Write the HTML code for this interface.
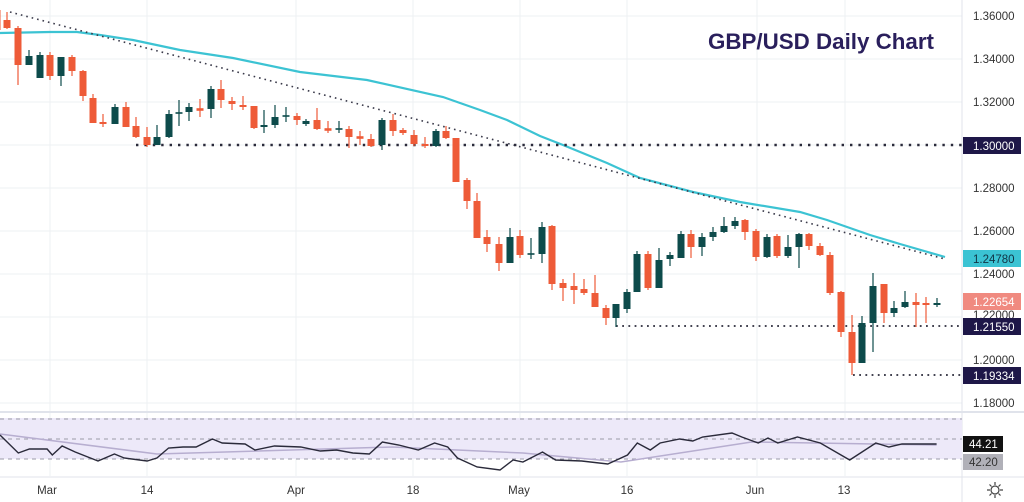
<!DOCTYPE html>
<html><head><meta charset="utf-8"><style>
html,body{margin:0;padding:0;background:#fff;}
svg{display:block;font-family:"Liberation Sans",sans-serif;}
</style></head><body>
<svg id="s" width="1024" height="502" viewBox="0 0 1024 502" xmlns="http://www.w3.org/2000/svg">
<rect width="1024" height="502" fill="#fff"/>
<g stroke="#eef0f3" stroke-width="1">
<line x1="0" y1="16" x2="962" y2="16"/><line x1="0" y1="59" x2="962" y2="59"/><line x1="0" y1="102" x2="962" y2="102"/><line x1="0" y1="145" x2="962" y2="145"/><line x1="0" y1="188" x2="962" y2="188"/><line x1="0" y1="231" x2="962" y2="231"/><line x1="0" y1="274" x2="962" y2="274"/><line x1="0" y1="317" x2="962" y2="317"/><line x1="0" y1="360" x2="962" y2="360"/><line x1="0" y1="403" x2="962" y2="403"/>
<line x1="50" y1="0" x2="50" y2="476"/><line x1="147" y1="0" x2="147" y2="476"/><line x1="296" y1="0" x2="296" y2="476"/><line x1="413" y1="0" x2="413" y2="476"/><line x1="520" y1="0" x2="520" y2="476"/><line x1="627" y1="0" x2="627" y2="476"/><line x1="757" y1="0" x2="757" y2="476"/><line x1="845" y1="0" x2="845" y2="476"/>
</g>
<line x1="962" y1="0" x2="962" y2="502" stroke="#e0e3eb"/>
<line x1="0" y1="412" x2="1024" y2="412" stroke="#e0e3eb" stroke-width="2"/>
<line x1="0" y1="477" x2="1024" y2="477" stroke="#e0e3eb" stroke-width="1"/>
<text x="708" y="49" font-size="22" font-weight="bold" fill="#2a1f5c" textLength="226" lengthAdjust="spacingAndGlyphs">GBP/USD Daily Chart</text>
<polyline fill="none" stroke="#3cc3d3" stroke-width="2.2" points="0,33 50,32 77,32 100,35 133,40 180,50 233,58 300,72 367,80 443,97 480,110 507,120 540,136 563,145 607,163 640,178 693,192 740,202 800,212 827,220 870,235 900,244 945,257"/>
<line x1="10" y1="12" x2="945" y2="259" stroke="#3a3a4a" stroke-width="1.6" stroke-dasharray="1.6 4"/>
<line x1="136" y1="145" x2="962" y2="145" stroke="#2a2a3a" stroke-width="2.4" stroke-dasharray="2.4 6"/>
<line x1="616" y1="326" x2="962" y2="326" stroke="#2a2a3a" stroke-width="1.8" stroke-dasharray="1.8 4.4"/>
<line x1="853" y1="375" x2="962" y2="375" stroke="#2a2a3a" stroke-width="1.8" stroke-dasharray="1.8 4.4"/>
<g id="c"></g>
<rect x="0" y="418" width="962" height="41" fill="#ede9f9"/>
<g stroke="#9a9aa8" stroke-width="1" stroke-dasharray="4 4"><line x1="0" y1="419" x2="962" y2="419"/><line x1="0" y1="439" x2="962" y2="439"/><line x1="0" y1="459" x2="962" y2="459"/></g>
<polyline id="sig" fill="none" stroke="#b7aed0" stroke-width="1.5"/>
<polyline id="rsi" fill="none" stroke="#2a2a3a" stroke-width="1.4"/>
<g font-size="11.5" fill="#333" >
<text x="973" y="20">1.36000</text><text x="973" y="63">1.34000</text><text x="973" y="106">1.32000</text><text x="973" y="192">1.28000</text><text x="973" y="235">1.26000</text><text x="973" y="278">1.24000</text><text x="973" y="319">1.22000</text><text x="973" y="364">1.20000</text><text x="973" y="407">1.18000</text>
</g>
<rect x="963" y="137" width="58" height="17" fill="#1e1748"/><text x="973" y="150" font-size="11.5" fill="#fff">1.30000</text>
<rect x="963" y="250" width="58" height="17" fill="#3bc3d3"/><text x="973" y="263" font-size="11.5" fill="#134">1.24780</text>
<rect x="963" y="293" width="58" height="17" fill="#f08a80"/><text x="973" y="306" font-size="11.5" fill="#fff">1.22654</text>
<rect x="963" y="318" width="58" height="17" fill="#1e1748"/><text x="973" y="331" font-size="11.5" fill="#fff">1.21550</text>
<rect x="963" y="367" width="58" height="17" fill="#1e1748"/><text x="973" y="380" font-size="11.5" fill="#fff">1.19334</text>
<rect x="963" y="436" width="40" height="16" fill="#111"/><text x="969" y="448" font-size="11.5" fill="#fff">44.21</text>
<rect x="963" y="454" width="40" height="16" fill="#b0b0b8"/><text x="969" y="466" font-size="11.5" fill="#333">42.20</text>
<g font-size="11.5" fill="#333" text-anchor="middle">
<text x="47" y="494">Mar</text><text x="147" y="494">14</text><text x="296" y="494">Apr</text><text x="413" y="494">18</text><text x="519" y="494">May</text><text x="627" y="494">16</text><text x="755" y="494">Jun</text><text x="844" y="494">13</text>
</g>
<g stroke="#444" fill="none" stroke-width="1.2"><circle cx="995" cy="490" r="4"/><path d="M995 482v3M995 495v3M987 490h3M1000 490h3M989.5 484.5l2 2M998.5 493.5l2 2M989.5 495.5l2-2M998.5 486.5l2-2"/></g>
</svg>
<script>
var C=[[-3,'r',10,30,6,34],[7,'r',20,28,12,29],[18,'r',28,65,26,85],[29,'g',56,65,50,65],[40,'g',55,78,52,78],[50,'r',55,76,52,80],[61,'g',57,76,57,86],[72,'r',57,71,55,76],[83,'r',71,96,70,101],[93,'r',98,123,94,123],[103,'r',122,124,114,127],[115,'g',107,124,104,124],[126,'r',107,127,102,127],[136,'r',126,137,117,138],[147,'r',137,145,127,147],[157,'g',137,145,125,145],[169,'g',114,137,110,138],[179,'g',113,113,100,126],[189,'g',107,112,103,121],[200,'r',109,110,99,117],[211,'g',89,109,86,118],[221,'r',89,100,80,108],[232,'r',101,104,97,110],[243,'r',105,107,96,110],[254,'r',106,128,106,129],[264,'g',125,127,110,133],[275,'g',117,125,105,128],[286,'g',116,116,107,122],[297,'r',116,120,113,125],[306,'g',121,124,119,126],[317,'r',120,129,108,130],[328,'r',129,130,121,133],[339,'g',129,129,121,133],[349,'r',129,137,126,148],[360,'r',137,138,131,145],[371,'r',139,146,134,147],[382,'g',120,145,118,150],[393,'r',120,131,114,136],[403,'r',130,133,128,135],[414,'r',135,144,130,146],[425,'r',144,146,137,148],[436,'g',131,146,129,147],[446,'r',131,138,126,139],[456,'r',138,182,138,182],[467,'r',180,201,178,209],[477,'r',201,238,193,238],[487,'r',237,244,230,252],[499,'r',244,263,237,271],[510,'g',237,263,228,263],[520,'r',236,255,230,258],[531,'g',254,254,238,259],[542,'g',227,254,222,263],[552,'r',226,284,225,290],[563,'r',283,288,279,301],[574,'r',286,290,273,304],[584,'r',289,293,279,295],[595,'r',293,307,275,307],[606,'r',308,318,305,325],[616,'g',304,318,304,327],[627,'g',292,309,289,313],[637,'g',254,292,251,292],[648,'r',254,288,251,290],[659,'g',260,288,248,288],[670,'g',255,259,252,266],[681,'g',234,258,231,258],[691,'r',234,247,230,258],[702,'g',237,247,233,256],[713,'g',232,237,227,241],[724,'g',226,232,217,233],[735,'g',221,226,217,229],[745,'r',220,232,219,240],[756,'r',231,257,229,261],[767,'g',237,257,234,258],[777,'r',236,256,234,258],[788,'g',247,256,235,258],[799,'g',234,247,233,268],[809,'r',234,246,233,250],[820,'r',246,255,243,256],[830,'r',255,293,252,295],[841,'r',292,332,291,337],[852,'r',332,363,315,375],[862,'g',323,363,316,363],[873,'g',286,323,273,352],[884,'r',284,313,284,323],[894,'g',308,313,301,317],[905,'g',302,307,291,308],[916,'r',302,305,293,327],[926,'r',303,305,297,323],[937,'g',303,305,298,307]];
var h='';C.forEach(function(c){var col=c[1]=='r'?'#ee5b38':'#0d4b4b';var t=Math.min(c[2],c[3]),b=Math.max(c[2],c[3]);if(b-t<1.5){t-=0.8;b+=0.8;}h+='<line x1="'+c[0]+'" x2="'+c[0]+'" y1="'+c[4]+'" y2="'+c[5]+'" stroke="'+col+'" stroke-width="1.2"/><rect x="'+(c[0]-3.5)+'" y="'+t+'" width="7" height="'+(b-t)+'" fill="'+col+'"/>';});
document.getElementById('c').innerHTML=h;
function cv(a){return a.map(function(p){return (p[0]/1.53).toFixed(1)+','+p[1];}).join(' ');}
document.getElementById('rsi').setAttribute('points',cv([[0,435],[28,453],[45,449],[72,449],[80,455],[95,446],[115,452],[150,461],[175,454],[190,458],[225,461],[240,458],[258,448],[280,447],[300,447],[325,439],[340,443],[375,444],[390,450],[420,446],[460,447],[490,451],[515,450],[540,453],[565,454],[585,442],[610,445],[640,450],[665,443],[685,447],[700,458],[730,467],[765,470],[785,460],[800,462],[830,452],[850,460],[890,461],[930,464],[960,455],[975,443],[995,450],[1010,443],[1040,439],[1060,441],[1075,437],[1120,433],[1135,437],[1160,443],[1175,438],[1190,443],[1220,437],[1255,443],[1300,460],[1340,443],[1360,447],[1380,444],[1433,444]]));
document.getElementById('sig').setAttribute('points',cv([[0,434],[240,454],[600,447],[800,453],[950,462],[1100,447],[1150,442],[1433,445]]));
</script>
</body></html>
